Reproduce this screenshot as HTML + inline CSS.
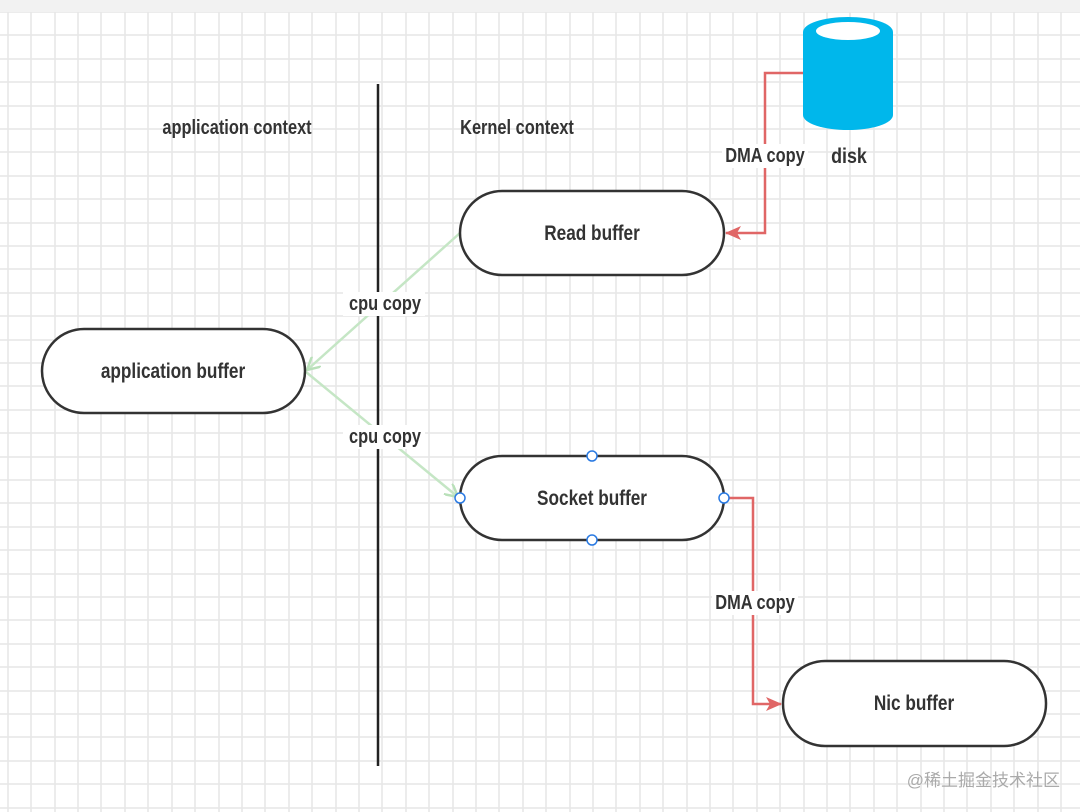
<!DOCTYPE html>
<html><head><style>
html,body{margin:0;padding:0;background:#fff;}
svg{display:block;}
text{font-family:"Liberation Sans",sans-serif;font-weight:bold;fill:#333;}
</style></head><body>
<svg width="1080" height="812" xmlns="http://www.w3.org/2000/svg">
<defs>
<marker id="ar" markerWidth="16" markerHeight="14" refX="15" refY="7" orient="auto" markerUnits="userSpaceOnUse"><path d="M0 0L16 7L0 14L4 7Z" fill="#e06666"/></marker>
<marker id="ag" markerWidth="14" markerHeight="14" refX="13" refY="7" orient="auto" markerUnits="userSpaceOnUse"><path d="M0 0L13 7L0 14" fill="none" stroke="#b9e0b9" stroke-width="2.5"/></marker>
</defs>
<rect width="1080" height="812" fill="#fff"/>
<g stroke="#e6e6e6" stroke-width="1.5" id="grid">
<line x1="8" y1="0" x2="8" y2="812"/><line x1="31" y1="0" x2="31" y2="812"/><line x1="55" y1="0" x2="55" y2="812"/><line x1="78" y1="0" x2="78" y2="812"/><line x1="101" y1="0" x2="101" y2="812"/><line x1="125" y1="0" x2="125" y2="812"/><line x1="148" y1="0" x2="148" y2="812"/><line x1="172" y1="0" x2="172" y2="812"/><line x1="195" y1="0" x2="195" y2="812"/><line x1="219" y1="0" x2="219" y2="812"/><line x1="242" y1="0" x2="242" y2="812"/><line x1="265" y1="0" x2="265" y2="812"/><line x1="289" y1="0" x2="289" y2="812"/><line x1="312" y1="0" x2="312" y2="812"/><line x1="336" y1="0" x2="336" y2="812"/><line x1="359" y1="0" x2="359" y2="812"/><line x1="382" y1="0" x2="382" y2="812"/><line x1="406" y1="0" x2="406" y2="812"/><line x1="429" y1="0" x2="429" y2="812"/><line x1="453" y1="0" x2="453" y2="812"/><line x1="476" y1="0" x2="476" y2="812"/><line x1="499" y1="0" x2="499" y2="812"/><line x1="523" y1="0" x2="523" y2="812"/><line x1="546" y1="0" x2="546" y2="812"/><line x1="570" y1="0" x2="570" y2="812"/><line x1="593" y1="0" x2="593" y2="812"/><line x1="616" y1="0" x2="616" y2="812"/><line x1="640" y1="0" x2="640" y2="812"/><line x1="663" y1="0" x2="663" y2="812"/><line x1="687" y1="0" x2="687" y2="812"/><line x1="710" y1="0" x2="710" y2="812"/><line x1="733" y1="0" x2="733" y2="812"/><line x1="757" y1="0" x2="757" y2="812"/><line x1="780" y1="0" x2="780" y2="812"/><line x1="804" y1="0" x2="804" y2="812"/><line x1="827" y1="0" x2="827" y2="812"/><line x1="850" y1="0" x2="850" y2="812"/><line x1="874" y1="0" x2="874" y2="812"/><line x1="897" y1="0" x2="897" y2="812"/><line x1="921" y1="0" x2="921" y2="812"/><line x1="944" y1="0" x2="944" y2="812"/><line x1="967" y1="0" x2="967" y2="812"/><line x1="991" y1="0" x2="991" y2="812"/><line x1="1014" y1="0" x2="1014" y2="812"/><line x1="1038" y1="0" x2="1038" y2="812"/><line x1="1061" y1="0" x2="1061" y2="812"/>
<line y1="12" x1="0" y2="12" x2="1080"/><line y1="35" x1="0" y2="35" x2="1080"/><line y1="59" x1="0" y2="59" x2="1080"/><line y1="82" x1="0" y2="82" x2="1080"/><line y1="106" x1="0" y2="106" x2="1080"/><line y1="129" x1="0" y2="129" x2="1080"/><line y1="152" x1="0" y2="152" x2="1080"/><line y1="176" x1="0" y2="176" x2="1080"/><line y1="199" x1="0" y2="199" x2="1080"/><line y1="223" x1="0" y2="223" x2="1080"/><line y1="246" x1="0" y2="246" x2="1080"/><line y1="269" x1="0" y2="269" x2="1080"/><line y1="293" x1="0" y2="293" x2="1080"/><line y1="316" x1="0" y2="316" x2="1080"/><line y1="340" x1="0" y2="340" x2="1080"/><line y1="363" x1="0" y2="363" x2="1080"/><line y1="386" x1="0" y2="386" x2="1080"/><line y1="410" x1="0" y2="410" x2="1080"/><line y1="433" x1="0" y2="433" x2="1080"/><line y1="457" x1="0" y2="457" x2="1080"/><line y1="480" x1="0" y2="480" x2="1080"/><line y1="503" x1="0" y2="503" x2="1080"/><line y1="527" x1="0" y2="527" x2="1080"/><line y1="550" x1="0" y2="550" x2="1080"/><line y1="574" x1="0" y2="574" x2="1080"/><line y1="597" x1="0" y2="597" x2="1080"/><line y1="620" x1="0" y2="620" x2="1080"/><line y1="644" x1="0" y2="644" x2="1080"/><line y1="667" x1="0" y2="667" x2="1080"/><line y1="691" x1="0" y2="691" x2="1080"/><line y1="714" x1="0" y2="714" x2="1080"/><line y1="737" x1="0" y2="737" x2="1080"/><line y1="761" x1="0" y2="761" x2="1080"/><line y1="784" x1="0" y2="784" x2="1080"/><line y1="808" x1="0" y2="808" x2="1080"/>
</g>
<rect width="1080" height="12" fill="#f2f2f2"/>
<line x1="378" y1="84" x2="378" y2="766" stroke="#222" stroke-width="2.5"/>
<text transform="translate(237 134) scale(0.82 1)" font-size="20" text-anchor="middle">application context</text>
<text transform="translate(517 134) scale(0.82 1)" font-size="20" text-anchor="middle">Kernel context</text>
<!-- disk -->
<path d="M803 32 V115 A45 15 0 0 0 893 115 V32 A45 15 0 0 0 803 32 Z" fill="#00b7eb"/>
<ellipse cx="848" cy="31" rx="32" ry="9" fill="#fff"/>
<text transform="translate(849 163) scale(0.85 1)" font-size="21" text-anchor="middle">disk</text>
<!-- red connectors -->
<polyline points="803,73 765,73 765,233 726,233" fill="none" stroke="#e06666" stroke-width="2.5" marker-end="url(#ar)"/>
<polyline points="725,498 753,498 753,704 781,704" fill="none" stroke="#e06666" stroke-width="2.5" marker-end="url(#ar)"/>
<rect x="722" y="144" width="86" height="24" fill="#fff"/>
<text transform="translate(765 162) scale(0.82 1)" font-size="20" text-anchor="middle">DMA copy</text>
<rect x="712" y="591" width="86" height="24" fill="#fff"/>
<text transform="translate(755 609) scale(0.82 1)" font-size="20" text-anchor="middle">DMA copy</text>
<!-- green connectors -->
<line x1="460" y1="233" x2="307" y2="370" stroke="#c5e6c5" stroke-width="2.5" marker-end="url(#ag)"/>
<line x1="306" y1="372" x2="458" y2="497" stroke="#c5e6c5" stroke-width="2.5" marker-end="url(#ag)"/>
<rect x="343" y="292" width="82" height="24" fill="#fff"/>
<text transform="translate(385 310) scale(0.82 1)" font-size="20" text-anchor="middle">cpu copy</text>
<rect x="343" y="425" width="82" height="24" fill="#fff"/>
<text transform="translate(385 443) scale(0.82 1)" font-size="20" text-anchor="middle">cpu copy</text>
<!-- nodes -->
<rect x="460" y="191" width="264" height="84" rx="42" ry="42" fill="#fff" stroke="#333" stroke-width="2.5"/>
<text transform="translate(592 240) scale(0.82 1)" font-size="21" text-anchor="middle">Read buffer</text>
<rect x="42" y="329" width="263" height="84" rx="42" ry="42" fill="#fff" stroke="#333" stroke-width="2.5"/>
<text transform="translate(173 378) scale(0.82 1)" font-size="21" text-anchor="middle">application buffer</text>
<rect x="460" y="456" width="264" height="84" rx="42" ry="42" fill="#fff" stroke="#333" stroke-width="2.5"/>
<text transform="translate(592 505) scale(0.82 1)" font-size="21" text-anchor="middle">Socket buffer</text>
<rect x="783" y="661" width="263" height="85" rx="42" ry="42" fill="#fff" stroke="#333" stroke-width="2.5"/>
<text transform="translate(914 710) scale(0.82 1)" font-size="21" text-anchor="middle">Nic buffer</text>
<g fill="#fff" stroke="#2a7ae2" stroke-width="1.5">
<circle cx="592" cy="456" r="5"/><circle cx="592" cy="540" r="5"/>
<circle cx="460" cy="498" r="5"/><circle cx="724" cy="498" r="5"/>
</g>
<text x="1060" y="786" font-size="17" text-anchor="end" style="font-family:'Liberation Sans','Noto Sans CJK SC',sans-serif;font-weight:normal;fill:#aaa">@稀土掘金技术社区</text>
</svg>
</body></html>
